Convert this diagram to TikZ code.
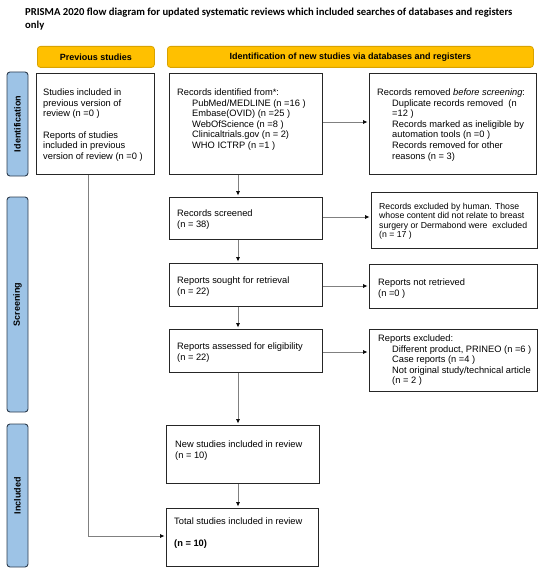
\documentclass[tikz,border=0pt]{standalone}
\usepackage{fontspec}
\setmainfont{Liberation Sans}
\newfontfamily\titlefont{Carlito}
\usetikzlibrary{arrows.meta}
\definecolor{boxc}{HTML}{262626}
\definecolor{lineg}{HTML}{808080}
\definecolor{orF}{HTML}{FFC000}
\definecolor{orD}{HTML}{D9A300}
\definecolor{blF}{HTML}{9DC3E6}
\definecolor{blD}{HTML}{2E3D4F}
\tikzset{
  box/.style={draw=boxc, line width=0.9pt, rectangle, inner sep=0pt, anchor=north west},
  txt/.style={inner sep=0pt, anchor=north west, align=left, font=\fontsize{9.3}{10.6}\selectfont},
  stxt/.style={inner sep=0pt, anchor=north west, align=left, font=\fontsize{8.7}{9.4}\selectfont},
  hdr/.style={fill=orF, draw=orD, line width=0.8pt, rounded corners=3pt, inner sep=0pt, anchor=north west, font=\bfseries\fontsize{9}{10}\selectfont},
  side/.style={fill=blF, draw=blD, line width=0.9pt, rounded corners=3pt, inner sep=0pt, rotate=90, minimum height=21pt, font=\bfseries\fontsize{9}{10}\selectfont},
  arr/.style={draw=lineg, line width=0.7pt, shorten >=1.5pt, -{Latex[length=4.5pt,width=4pt,color=black]}}
}
\begin{document}
\begin{tikzpicture}[x=1pt,y=-1pt]
\useasboundingbox (0,0) rectangle (550,575);
% title
\node[inner sep=0pt, anchor=north west, align=left, font=\titlefont\bfseries\fontsize{10.65}{13}\selectfont] (title) at (25,8)
  {PRISMA 2020 flow diagram for updated systematic reviews which included searches of databases and registers\\only};
% headers
\node[hdr, minimum width=117pt, minimum height=21pt] (hprev) at (37,46) {Previous studies};
\node[hdr, minimum width=366pt, minimum height=21pt] (hid) at (167,46) {Identification of new studies via databases and registers};
% side bars
\node[side, minimum width=104pt] (sid) at (17.5,124) {Identification};
\node[side, minimum width=215pt] (ssc) at (17.5,304.5) {Screening};
\node[side, minimum width=143pt] (sin) at (17.5,495.5) {Included};
% boxes
\node[box, minimum width=118pt, minimum height=101pt] (prev) at (36,73) {};
\node[box, minimum width=153pt, minimum height=101pt] (idf) at (169,73) {};
\node[box, minimum width=167pt, minimum height=101pt] (rem) at (369,73) {};
\node[box, minimum width=153pt, minimum height=42pt] (scr) at (169,197) {};
\node[box, minimum width=166pt, minimum height=56pt] (exc) at (371,192) {};
\node[box, minimum width=153pt, minimum height=43pt] (sou) at (169,263) {};
\node[box, minimum width=168pt, minimum height=44pt] (nrt) at (369,264) {};
\node[box, minimum width=153pt, minimum height=43pt] (ass) at (169,329) {};
\node[box, minimum width=168pt, minimum height=62pt] (rex) at (369,329) {};
\node[box, minimum width=153pt, minimum height=58pt] (new) at (166,425) {};
\node[box, minimum width=152pt, minimum height=58pt] (tot) at (166,508) {};
% texts
\node[txt] (tprev) at (43,88.5) {Studies included in\\previous version of\\review (n =0 )\\[11pt]Reports of studies\\included in previous\\version of review (n =0 )};
\node[txt] (tidf) at (177,88.5) {Records identified from*:\\
  \hspace*{15pt}PubMed/MEDLINE (n =16 )\\
  \hspace*{15pt}Embase(OVID) (n =25 )\\
  \hspace*{15pt}WebOfScience (n =8 )\\
  \hspace*{15pt}Clinicaltrials.gov (n = 2)\\
  \hspace*{15pt}WHO ICTRP (n =1 )};
\node[txt] (trem) at (377,88.5) {Records removed \emph{before screening}:\\
  \hspace*{15pt}Duplicate records removed\ \ (n\\
  \hspace*{15pt}=12 )\\
  \hspace*{15pt}Records marked as ineligible by\\
  \hspace*{15pt}automation tools (n =0 )\\
  \hspace*{15pt}Records removed for other\\
  \hspace*{15pt}reasons (n = 3)};
\node[txt] (tscr) at (177,209.5) {Records screened\\(n = 38)};
\node[stxt] (texc) at (379,203) {Records excluded by human. Those\\whose content did not relate to breast\\surgery or Dermabond were\ \ excluded\\(n = 17 )};
\node[txt] (tsou) at (177,276.5) {Reports sought for retrieval\\(n = 22)};
\node[txt] (tnrt) at (378,278.5) {Reports not retrieved\\(n =0 )};
\node[txt] (tass) at (177,342.5) {Reports assessed for eligibility\\(n = 22)};
\node[txt] (trex) at (378,334.5) {Reports excluded:\\
  \hspace*{14pt}Different product, PRINEO (n =6 )\\
  \hspace*{14pt}Case reports (n =4 )\\
  \hspace*{14pt}Not original study/technical article\\
  \hspace*{14pt}(n = 2 )};
\node[txt] (tnew) at (175,440.5) {New studies included in review\\(n = 10)};
\node[txt] (ttot) at (174,517.5) {Total studies included in review\\[11pt]\textbf{(n = 10)}};
% connectors
\coordinate (cx) at (238,0);
\coordinate (r1) at (0,122);
\coordinate (r2) at (0,217);
\coordinate (r3) at (0,286);
\coordinate (r4) at (0,352);
\coordinate (lx) at (88,536);
\draw[arr] (idf.south -| cx) -- (scr.north -| cx);
\draw[arr] (scr.south -| cx) -- (sou.north -| cx);
\draw[arr] (sou.south -| cx) -- (ass.north -| cx);
\draw[arr] (ass.south -| cx) -- (new.north -| cx);
\draw[arr] (new.south -| cx) -- (tot.north -| cx);
\draw[arr] (idf.east |- r1) -- (rem.west |- r1);
\draw[arr] (scr.east |- r2) -- (exc.west |- r2);
\draw[arr] (sou.east |- r3) -- (nrt.west |- r3);
\draw[arr] (ass.east |- r4) -- (rex.west |- r4);
\draw[arr] (prev.south -| lx) -- (lx) -- (tot.west |- lx);
\end{tikzpicture}
\end{document}
